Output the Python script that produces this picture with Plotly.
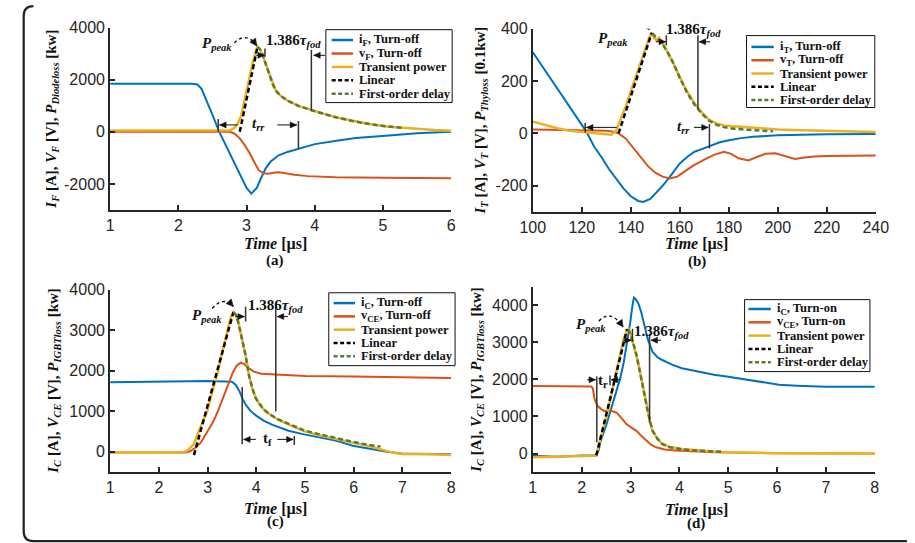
import math
import plotly.graph_objects as go

# ---------------- data ----------------
# (a) diode turn-off
a_t_i = [1.0, 1.5, 2.0, 2.2, 2.28, 2.34, 2.4, 2.5, 2.6, 2.7, 2.8, 2.9, 3.0, 3.07, 3.15, 3.2, 3.28, 3.35, 3.47, 3.6, 3.76, 4.0, 4.32, 4.6, 5.04, 5.5, 6.0]
a_i = [1850, 1860, 1850, 1845, 1820, 1650, 1300, 650, 0, -550, -1100, -1650, -2150, -2370, -2150, -1850, -1400, -1150, -900, -770, -640, -470, -340, -240, -150, -50, 0]
a_t_v = [1.0, 2.75, 2.82, 2.9, 2.97, 3.04, 3.11, 3.18, 3.25, 3.32, 3.4, 3.47, 3.55, 3.7, 3.9, 4.3, 5.0, 6.0]
a_v = [0, 0, -60, -250, -500, -790, -1150, -1480, -1590, -1610, -1570, -1550, -1580, -1650, -1700, -1745, -1760, -1780]
a_t_p = [1.0, 2.7, 2.76, 2.82, 2.87, 2.92, 2.97, 3.02, 3.08, 3.13, 3.16, 3.19, 3.23, 3.28, 3.33, 3.38, 3.43, 3.5, 3.6, 3.76, 3.95, 4.1, 4.32, 4.55, 4.8, 5.05, 5.27, 5.5, 5.75, 6.0]
a_p = [50, 50, 60, 150, 320, 600, 1250, 1900, 2550, 3050, 3260, 3200, 3000, 2600, 2250, 1850, 1580, 1380, 1200, 1000, 830, 720, 550, 420, 300, 210, 160, 110, 70, 40]
a_t_lin = [2.90, 3.16]
a_lin = [0, 3260]
a_t_fod = [3.16, 3.19, 3.23, 3.28, 3.33, 3.38, 3.43, 3.5, 3.6, 3.76, 3.95, 4.1, 4.32, 4.55, 4.8, 5.05, 5.3]
a_fod = [3260, 3200, 3000, 2600, 2250, 1850, 1580, 1380, 1200, 1000, 830, 720, 550, 420, 300, 210, 150]

# (b) thyristor turn-off
b_t_i = [100, 105, 110, 115, 120, 122, 125, 128, 131, 134, 137, 140, 143, 145, 148, 150, 153, 156, 160, 163, 166, 169, 172, 176, 180, 185, 190, 200, 210, 220, 240]
b_i = [310, 240, 170, 100, 30, 5, -50, -90, -135, -175, -210, -240, -258, -262, -250, -230, -200, -165, -115, -90, -70, -60, -50, -35, -26, -18, -13, -7, -5, -3, -2]
b_t_v = [100, 110, 120, 125, 130, 133, 135, 138, 141, 144, 147, 150, 153, 156, 159, 162, 166, 170, 174, 178, 181, 184, 188, 192, 195, 199, 203, 207, 211, 215, 220, 230, 240]
b_v = [15, 14, 13, 12, 10, 6, 0, -20, -55, -90, -125, -150, -165, -172, -165, -145, -120, -100, -82, -70, -78, -95, -103, -88, -78, -76, -88, -98, -92, -88, -86, -85, -84]
b_t_p = [100, 105, 110, 115, 120, 125, 130, 132, 134, 136, 138, 140, 142, 144, 146, 147.5, 148.5, 149.5, 150.5, 151.5, 153, 155, 157, 160, 163, 166, 169, 172, 175, 178, 182, 187, 195, 200, 210, 220, 240]
b_p = [45, 32, 20, 10, 5, 2, -5, -5, 10, 55, 105, 160, 215, 270, 330, 365, 382, 365, 355, 365, 345, 310, 275, 215, 160, 115, 80, 52, 38, 30, 27, 25, 18, 15, 12, 9, 5]
b_t_lin = [135.0, 148.6]
b_lin = [0, 385]
b_t_fod = [148.8, 151, 153, 155, 157, 160, 163, 166, 169, 172, 175, 178, 182, 187, 192, 198]
b_fod = [382, 360, 340, 310, 275, 212, 155, 110, 75, 48, 33, 24, 18, 14, 11, 8]

# (c) IGBT turn-off
c_t_i = [1.0, 2.0, 3.0, 3.5, 3.58, 3.66, 3.72, 3.79, 3.88, 3.99, 4.15, 4.32, 4.5, 4.66, 4.98, 5.3, 5.65, 5.98, 6.31, 6.65, 6.98, 7.5, 8.0]
c_i = [1720, 1740, 1750, 1730, 1650, 1480, 1300, 1150, 1010, 900, 770, 670, 590, 520, 430, 350, 270, 150, 70, 5, -40, -50, -60]
c_t_v = [1.0, 2.55, 2.65, 2.75, 2.86, 2.99, 3.12, 3.22, 3.32, 3.42, 3.52, 3.6, 3.68, 3.75, 3.85, 3.95, 4.1, 4.5, 5.0, 6.0, 7.0, 8.0]
c_v = [-20, -20, 20, 100, 226, 480, 751, 1030, 1317, 1650, 1964, 2130, 2200, 2170, 2060, 1980, 1930, 1900, 1870, 1860, 1840, 1820]
c_t_p = [1.0, 2.5, 2.58, 2.65, 2.72, 2.8, 2.9, 2.99, 3.1, 3.2, 3.3, 3.4, 3.47, 3.53, 3.58, 3.63, 3.68, 3.72, 3.78, 3.85, 3.92, 3.99, 4.1, 4.19, 4.3, 4.45, 4.7, 4.98, 5.3, 5.65, 6.0, 6.31, 6.5, 6.65, 6.8, 6.98, 7.5, 8.0]
c_p = [-20, -10, 30, 100, 186, 450, 720, 994, 1500, 1920, 2450, 2950, 3300, 3450, 3380, 3200, 2950, 2750, 2380, 1880, 1560, 1317, 1120, 994, 900, 792, 650, 509, 410, 307, 220, 145, 90, 30, -20, -56, -60, -80]
c_t_lin = [2.72, 3.53]
c_lin = [-80, 3450]
c_t_fod = [3.53, 3.58, 3.63, 3.68, 3.72, 3.78, 3.85, 3.92, 3.99, 4.1, 4.19, 4.3, 4.45, 4.7, 4.98, 5.3, 5.65, 6.0, 6.3, 6.55]
c_fod = [3450, 3380, 3200, 2950, 2750, 2380, 1880, 1560, 1317, 1130, 1010, 910, 800, 670, 530, 430, 330, 240, 170, 130]

# (d) IGBT turn-on
d_t_i = [1.0, 1.5, 2.0, 2.3, 2.35, 2.39, 2.5, 2.59, 2.7, 2.79, 2.86, 2.92, 2.99, 3.04, 3.07, 3.1, 3.16, 3.22, 3.28, 3.35, 3.45, 3.55, 3.65, 3.85, 4.05, 4.4, 4.71, 5.0, 5.38, 5.7, 6.04, 6.4, 6.7, 7.0, 7.5, 8.0]
d_i = [-60, -90, -50, -50, 100, 347, 750, 1147, 1600, 2035, 2450, 2925, 3500, 4000, 4210, 4180, 4050, 3813, 3500, 3101, 2747, 2600, 2525, 2400, 2301, 2200, 2125, 2070, 1992, 1930, 1858, 1830, 1813, 1800, 1800, 1800]
d_t_v = [1.0, 2.0, 2.2, 2.23, 2.26, 2.3, 2.33, 2.4, 2.46, 2.59, 2.65, 2.72, 2.82, 2.92, 3.02, 3.12, 3.22, 3.32, 3.42, 3.52, 3.7, 3.92, 4.3, 4.71, 6.0, 8.0]
d_v = [1820, 1820, 1810, 1750, 1500, 1350, 1280, 1200, 1150, 1160, 1140, 1100, 950, 790, 700, 613, 480, 347, 240, 169, 110, 80, 50, 36, 10, 0]
d_t_p = [1.0, 1.5, 2.0, 2.3, 2.34, 2.39, 2.5, 2.59, 2.72, 2.8, 2.86, 2.92, 2.96, 3.0, 3.02, 3.07, 3.12, 3.18, 3.25, 3.3, 3.35, 3.4, 3.45, 3.55, 3.65, 3.8, 4.05, 4.4, 4.71, 5.0, 6.0, 7.0, 8.0]
d_p = [-100, -80, -70, -60, 150, 436, 950, 1502, 2213, 2700, 3101, 3300, 3368, 3250, 3101, 2900, 2658, 2300, 1858, 1500, 1147, 850, 613, 400, 258, 180, 125, 80, 53, 35, 10, 5, 0]
d_t_lin = [2.30, 2.93]
d_lin = [-50, 3360]
d_t_fod = [2.95, 3.02, 3.12, 3.25, 3.35, 3.45, 3.55, 3.65, 3.8, 4.05, 4.4, 4.9]
d_fod = [3360, 3150, 2680, 1850, 1150, 620, 400, 260, 170, 115, 75, 45]

# tick labels
a_yticks = [-2000, 0, 2000, 4000]
a_ytext = ["-2000", "0", "2000", "4000"]
b_yticks = [-200, 0, 200, 400]
b_ytext = ["-200", "0", "200", "400"]
c_yticks = [0, 1000, 2000, 3000, 4000]
c_ytext = ["0", "1000", "2000", "3000", "4000"]
d_yticks = [0, 1000, 2000, 3000, 4000]
d_ytext = ["0", "1000", "2000", "3000", "4000"]

legend_a = ["i<sub>F</sub>, Turn-off", "v<sub>F</sub>, Turn-off", "Transient power", "Linear", "First-order delay"]
legend_b = ["i<sub>T</sub>, Turn-off", "v<sub>T</sub>, Turn-off", "Transient power", "Linear", "First-order delay"]
legend_c = ["i<sub>C</sub>, Turn-off", "v<sub>CE</sub>, Turn-off", "Transient power", "Linear", "First-order delay"]
legend_d = ["i<sub>C</sub>, Turn-on", "v<sub>CE</sub>, Turn-on", "Transient power", "Linear", "First-order delay"]

# ---------------- style ----------------
W, H = 915, 543
BLUE, ORANGE, YELLOW, BLACK, GREEN = "#0072BD", "#D95319", "#EDB120", "#000000", "#587A36"
SERIF = "Liberation Serif, Times New Roman, serif"
SANS = "Liberation Sans, Arial, sans-serif"
AX = "#262626"
INK = "#111111"


def PX(x):
    return x / W


def PY(y):
    return 1 - y / H


fig = go.Figure()

panels = [
    ("x", "y", a_t_i, a_i, a_t_v, a_v, a_t_p, a_p, a_t_lin, a_lin, a_t_fod, a_fod),
    ("x2", "y2", b_t_i, b_i, b_t_v, b_v, b_t_p, b_p, b_t_lin, b_lin, b_t_fod, b_fod),
    ("x3", "y3", c_t_i, c_i, c_t_v, c_v, c_t_p, c_p, c_t_lin, c_lin, c_t_fod, c_fod),
    ("x4", "y4", d_t_i, d_i, d_t_v, d_v, d_t_p, d_p, d_t_lin, d_lin, d_t_fod, d_fod),
]
for (xr, yr, ti, vi, tv, vv, tp, vp, tl, vl, tf, vf) in panels:
    fig.add_trace(go.Scatter(x=ti, y=vi, mode="lines", line=dict(color=BLUE, width=2), xaxis=xr, yaxis=yr, showlegend=False))
    fig.add_trace(go.Scatter(x=tv, y=vv, mode="lines", line=dict(color=ORANGE, width=2), xaxis=xr, yaxis=yr, showlegend=False))
    fig.add_trace(go.Scatter(x=tp, y=vp, mode="lines", line=dict(color=YELLOW, width=2.5), xaxis=xr, yaxis=yr, showlegend=False))
    fig.add_trace(go.Scatter(x=tl, y=vl, mode="lines", line=dict(color=BLACK, width=2.5, dash="5px,3px"), xaxis=xr, yaxis=yr, showlegend=False))
    fig.add_trace(go.Scatter(x=tf, y=vf, mode="lines", line=dict(color=GREEN, width=2.5, dash="5px,3px"), xaxis=xr, yaxis=yr, showlegend=False))

common = dict(showline=True, linecolor=AX, linewidth=2, ticks="inside", ticklen=5, tickwidth=2,
              tickcolor=AX, showgrid=False, zeroline=False, mirror=False,
              tickfont=dict(family=SANS, size=16, color=AX))

fig.update_layout(
    width=W, height=H, margin=dict(l=0, r=0, t=0, b=0), paper_bgcolor="white", plot_bgcolor="white",
    xaxis=dict(domain=[PX(100), PX(451)], range=[1, 6], dtick=1, anchor="y", **common),
    yaxis=dict(domain=[PY(205), PY(20)], range=[-3000, 4000], tickvals=a_yticks, ticktext=a_ytext, anchor="x", **common),
    xaxis2=dict(domain=[PX(535), PX(888)], range=[100, 240], dtick=20, anchor="y2", **common),
    yaxis2=dict(domain=[PY(207), PY(21)], range=[-300, 400], tickvals=b_yticks, ticktext=b_ytext, anchor="x2", **common),
    xaxis3=dict(domain=[PX(100), PX(451)], range=[1, 8], dtick=1, anchor="y3", **common),
    yaxis3=dict(domain=[PY(471), PY(286)], range=[-500, 4000], tickvals=c_yticks, ticktext=c_ytext, anchor="x3", **common),
    xaxis4=dict(domain=[PX(535), PX(887)], range=[1, 8], dtick=1, anchor="y4", **common),
    yaxis4=dict(domain=[PY(471), PY(283)], range=[-500, 4500], tickvals=d_yticks, ticktext=d_ytext, anchor="x4", **common),
)

shapes = []
annots = []


def pp(x, y):
    return f"{PX(x):.5f},{PY(y):.5f}"


# outer rounded frame
frame = (f"M {pp(11, 8)} Q {pp(11, -2)} {pp(21, -2)} M {pp(11, 8)} L {pp(11, 531)} "
         f"Q {pp(11, 541)} {pp(21, 541)} L {pp(920, 541)}")
shapes.append(dict(type="path", xref="paper", yref="paper", path=frame, line=dict(color="#222222", width=2.2)))


def vline(xr, yr, x, y0, y1):
    shapes.append(dict(type="line", xref=xr, yref=yr, x0=x, x1=x, y0=y0, y1=y1, line=dict(color="#333333", width=1.5)))


def head(xr, yr, x, y, dx, dy, size=6.5, half=3.0):
    # triangle arrowhead with its tip at (x, y); (dx, dy) = pointing direction in pixels (y up)
    n = math.hypot(dx, dy)
    ux, uy = dx / n, dy / n
    bx, by = -ux * size, -uy * size
    qx, qy = -uy * half, ux * half
    path = f"M 0,0 L {bx + qx:.2f},{by + qy:.2f} L {bx - qx:.2f},{by - qy:.2f} Z"
    shapes.append(dict(type="path", xref=xr, yref=yr, xsizemode="pixel", ysizemode="pixel",
                       xanchor=x, yanchor=y, path=path, fillcolor=INK, line=dict(color=INK, width=0.5)))


def harrow(xr, yr, xh, xt, y):
    shapes.append(dict(type="line", xref=xr, yref=yr, x0=xt, x1=xh, y0=y, y1=y, line=dict(color=INK, width=1)))
    head(xr, yr, xh, y, 1 if xh > xt else -1, 0)


def text(xr, yr, x, y, s, xanchor="center", size=15):
    annots.append(dict(xref=xr, yref=yr, x=x, y=y, text=s, showarrow=False, xanchor=xanchor, yanchor="middle",
                       font=dict(family=SERIF, size=size, color=INK)))


def arc(xr, yr, p0, c, p1, direction):
    shapes.append(dict(type="path", xref=xr, yref=yr,
                       path=f"M {p0[0]},{p0[1]} Q {c[0]},{c[1]} {p1[0]},{p1[1]}",
                       line=dict(color=INK, width=1.4, dash="dot")))
    head(xr, yr, p1[0], p1[1], direction[0], direction[1], size=7, half=3.5)


PPEAK = "<b><i>P<sub>peak</sub></i></b>"
TAU = "<b>1.386<i>τ<sub>fod</sub></i></b>"

# ---- (a) annotations
text("x", "y", 2.57, 3380, PPEAK)
arc("x", "y", (2.82, 3418), (2.994, 3874), (3.151, 3304), (11, -15))
text("x", "y", 3.25, 3494, TAU, xanchor="left")
vline("x", "y", 3.27, 3200, 2886)
harrow("x", "y", 3.262, 3.14, 2940)
vline("x", "y", 3.95, 3152, 830)
harrow("x", "y", 3.985, 4.15, 2940)
vline("x", "y", 2.585, 494, 0)
harrow("x", "y", 2.605, 2.87, 266)
text("x", "y", 3.18, 290, "<b><i>t<sub>rr</sub></i></b>")
harrow("x", "y", 3.735, 3.45, 266)
vline("x", "y", 3.76, 418, -646)

# ---- (b) annotations
text("x2", "y2", 132.9, 361, PPEAK)
arc("x2", "y2", (137.7, 414), (142.4, 463), (147.6, 395), (13, -18))
text("x2", "y2", 153.5, 395, TAU, xanchor="left")
vline("x2", "y2", 154.5, 375, 337)
harrow("x2", "y2", 154.2, 150.2, 350)
vline("x2", "y2", 167.4, 375, 93)
harrow("x2", "y2", 167.9, 172.4, 350)
vline("x2", "y2", 121.4, 40, 3)
harrow("x2", "y2", 121.9, 134.3, 23)
text("x2", "y2", 161.5, 24, "<b><i>t<sub>rr</sub></i></b>")
harrow("x2", "y2", 171.6, 165.8, 23)
vline("x2", "y2", 172.1, 36, -58)

# ---- (c) annotations
text("x3", "y3", 2.994, 3345, PPEAK)
arc("x3", "y3", (3.094, 3539), (3.33, 3855), (3.53, 3588), (10, -11))
text("x3", "y3", 3.792, 3612, TAU, xanchor="left")
vline("x3", "y3", 3.78, 3580, 3217)
harrow("x3", "y3", 3.755, 3.573, 3338)
vline("x3", "y3", 4.40, 3620, 994)
harrow("x3", "y3", 4.43, 4.65, 3338)
vline("x3", "y3", 3.71, 1600, 186)
harrow("x3", "y3", 3.74, 3.99, 307)
text("x3", "y3", 4.23, 307, "<b>t<sub>f</sub></b>")
harrow("x3", "y3", 4.755, 4.43, 307)
vline("x3", "y3", 4.78, 388, 170)

# ---- (d) annotations
text("x4", "y4", 2.193, 3467, PPEAK)
arc("x4", "y4", (2.352, 3573), (2.59, 3920), (2.849, 3413), (13, -19))
text("x4", "y4", 3.028, 3280, TAU, xanchor="left")
vline("x4", "y4", 3.04, 3368, 3013)
harrow("x4", "y4", 3.015, 2.849, 3058)
vline("x4", "y4", 3.39, 3235, 835)
harrow("x4", "y4", 3.42, 3.625, 3058)
vline("x4", "y4", 2.31, 2080, 302)
harrow("x4", "y4", 2.285, 2.114, 1992)
text("x4", "y4", 2.43, 1965, "<b>t<sub>r</sub></b>")
vline("x4", "y4", 2.58, 2107, 1840)
harrow("x4", "y4", 2.605, 2.79, 1992)

# ---- legends (drawn manually)
COLS = [BLUE, ORANGE, YELLOW, BLACK, GREEN]
DASH = ["solid", "solid", "solid", "4px,2.5px", "4px,2.5px"]


def legend(labels, box, rows, lx0, lx1, tx):
    x0, y0, x1, y1 = box
    shapes.append(dict(type="rect", xref="paper", yref="paper", x0=PX(x0), x1=PX(x1), y0=PY(y1), y1=PY(y0),
                       line=dict(color=INK, width=1), fillcolor="white", layer="above"))
    for lab, col, dsh, ry in zip(labels, COLS, DASH, rows):
        shapes.append(dict(type="line", xref="paper", yref="paper", x0=PX(lx0), x1=PX(lx1), y0=PY(ry), y1=PY(ry),
                           line=dict(color=col, width=2.5, dash=dsh), layer="above"))
        annots.append(dict(xref="paper", yref="paper", x=PX(tx), y=PY(ry), text=f"<b>{lab}</b>", showarrow=False,
                           xanchor="left", yanchor="middle", font=dict(family=SERIF, size=12.5, color=INK)))


legend(legend_a, (322, 22, 452, 96), [32.5, 46.2, 59.8, 73.4, 87], 328, 350, 354)
legend(legend_b, (755, 28, 887, 101), [39.5, 53, 66.5, 80, 93.5], 760, 783, 787)
legend(legend_c, (325, 289, 455, 363), [299.5, 313, 326.5, 340, 353.5], 330, 352, 356)
legend(legend_d, (753, 296, 882, 369), [305.5, 319, 332.5, 346, 359.5], 757, 780, 784)

# ---- axis titles
ytitles = [
    ("<b><i>I<sub>F</sub></i> [A], <i>V<sub>F</sub></i> [V], <i>P<sub>Diodeloss</sub></i> [kw]</b>", 40, (20 + 205) / 2),
    ("<b><i>I<sub>T</sub></i> [A], <i>V<sub>T</sub></i> [V], <i>P<sub>Thyloss</sub></i> [0.1kw]</b>", 482, (21 + 207) / 2),
    ("<b><i>I<sub>C</sub></i> [A], <i>V<sub>CE</sub></i> [V], <i>P<sub>IGBTloss</sub></i> [kw]</b>", 42, (286 + 471) / 2),
    ("<b><i>I<sub>C</sub></i> [A], <i>V<sub>CE</sub></i> [V], <i>P<sub>IGBTloss</sub></i> [kw]</b>", 478, (283 + 471) / 2),
]
for s, x, y in ytitles:
    annots.append(dict(xref="paper", yref="paper", x=PX(x), y=PY(y), text=s, showarrow=False, textangle=-90,
                       xanchor="center", yanchor="middle", font=dict(family=SERIF, size=15, color=INK)))

xtitles = [(270, 240, 256, "(a)"), (704, 240, 257, "(b)"), (270, 508, 521, "(c)"), (703, 509, 523, "(d)")]
for x, yt, yl, lab in xtitles:
    annots.append(dict(xref="paper", yref="paper", x=PX(x), y=PY(yt), text="<b><i>Time</i> [µs]</b>", showarrow=False,
                       xanchor="center", yanchor="middle", font=dict(family=SERIF, size=16, color=INK)))
    annots.append(dict(xref="paper", yref="paper", x=PX(x), y=PY(yl), text=f"<b>{lab}</b>", showarrow=False,
                       xanchor="center", yanchor="middle", font=dict(family=SERIF, size=15, color=INK)))

fig.update_layout(shapes=shapes, annotations=annots)

# pin the figure to the top-left corner of a page exactly the size of the window
PIN = (
    "var r=document.documentElement, b=document.body;"
    "r.style.cssText='margin:0;padding:0;overflow:hidden;width:915px;height:543px;';"
    "b.style.cssText='margin:0;padding:0;overflow:hidden;width:915px;height:543px;position:relative;';"
    "var g=document.getElementsByClassName('plotly-graph-div')[0];"
    "if(g){g.style.position='fixed';g.style.left='0px';g.style.top='0px';g.style.margin='0';}"
)
fig.write_html("out.html", config={"displayModeBar": False, "responsive": False}, post_script=PIN)
